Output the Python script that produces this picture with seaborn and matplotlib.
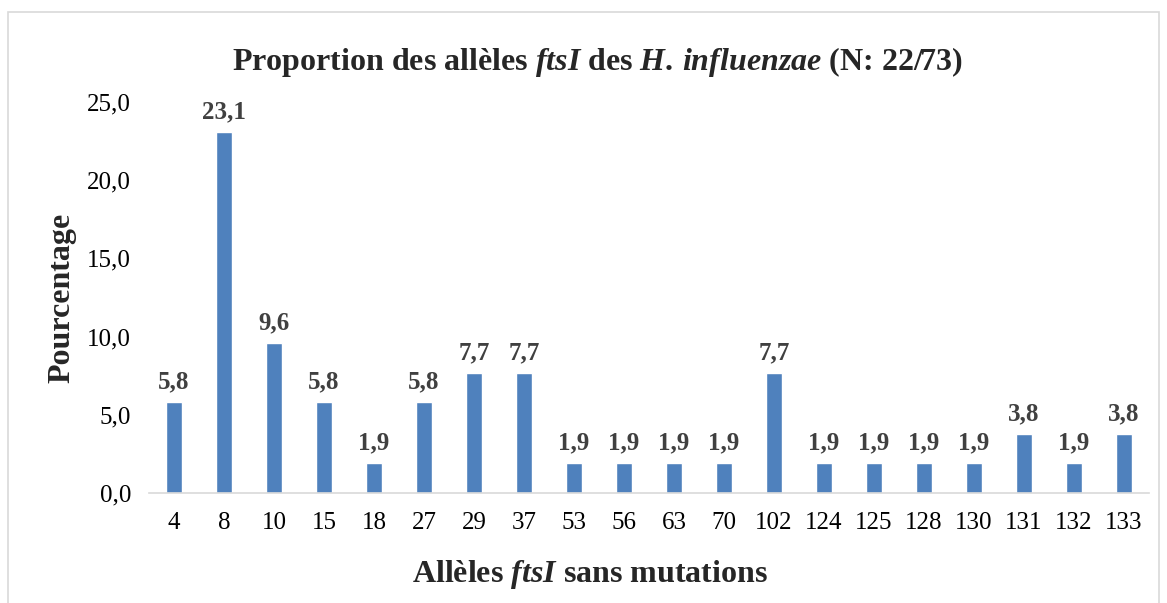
import matplotlib
matplotlib.use("Agg")
import matplotlib.pyplot as plt
import seaborn as sns
import pandas as pd
from matplotlib.patches import Rectangle

# Chart data
alleles = ["4", "8", "10", "15", "18", "27", "29", "37", "53", "56", "63", "70",
           "102", "124", "125", "128", "130", "131", "132", "133"]
pourcentages = [5.8, 23.1, 9.6, 5.8, 1.9, 5.8, 7.7, 7.7, 1.9, 1.9, 1.9, 1.9,
                7.7, 1.9, 1.9, 1.9, 1.9, 3.8, 1.9, 3.8]
yticks = [0, 5, 10, 15, 20, 25]

df = pd.DataFrame({"allele": alleles, "pct": pourcentages})

sns.set_style("white")
plt.rcParams["font.family"] = ["Liberation Serif", "DejaVu Serif"]
plt.rcParams["mathtext.fontset"] = "custom"
plt.rcParams["mathtext.rm"] = "Liberation Serif:bold"
plt.rcParams["mathtext.bf"] = "Liberation Serif:bold"
plt.rcParams["mathtext.it"] = "Liberation Serif:bold:italic"

fig = plt.figure(figsize=(11.67, 6.03), dpi=100)
ax = fig.add_axes([0.1277, 0.1824, 0.8569, 0.6484])

sns.barplot(data=df, x="allele", y="pct", color="#4F81BD", saturation=1,
            width=0.32, ax=ax)

# value labels above bars
for i, v in enumerate(pourcentages):
    ax.text(i, v + 0.55, f"{v:.1f}".replace(".", ","), ha="center", va="bottom",
            fontsize=18, fontweight="bold", color="#404040")

ax.set_ylim(0, 25)
ax.set_xlim(-0.5, len(alleles) - 0.5)
ax.set_yticks(yticks)
ax.set_yticklabels([f"{t:.1f}".replace(".", ",") for t in yticks])
ax.tick_params(axis="both", length=0, labelsize=18, colors="black")
ax.tick_params(axis="x", pad=14)
ax.tick_params(axis="y", pad=13)

for s in ["top", "right", "left"]:
    ax.spines[s].set_visible(False)
ax.spines["bottom"].set_color("#D9D9D9")
ax.spines["bottom"].set_linewidth(1.2)

ax.set_xlabel(r"Allèles $\mathit{ftsI}$ sans mutations", fontsize=23,
              fontweight="bold")
ax.xaxis.set_label_coords(0.441, -0.165)
ax.set_ylabel("Pourcentage", fontsize=23, fontweight="bold", labelpad=8)

fig.text(0.512, 0.897,
         r"Proportion des allèles $\mathit{ftsI}$ des $\mathit{H.\,influenzae}$ (N: 22/73)",
         ha="center", va="center", fontsize=23, fontweight="bold")

fig.patches.append(Rectangle((8 / 1167, -0.02), 1151 / 1167, 1.0 - 12 / 603 + 0.02,
                             transform=fig.transFigure, fill=False,
                             edgecolor="#D9D9D9", linewidth=1.2))

fig.savefig("out.png", dpi=100)
